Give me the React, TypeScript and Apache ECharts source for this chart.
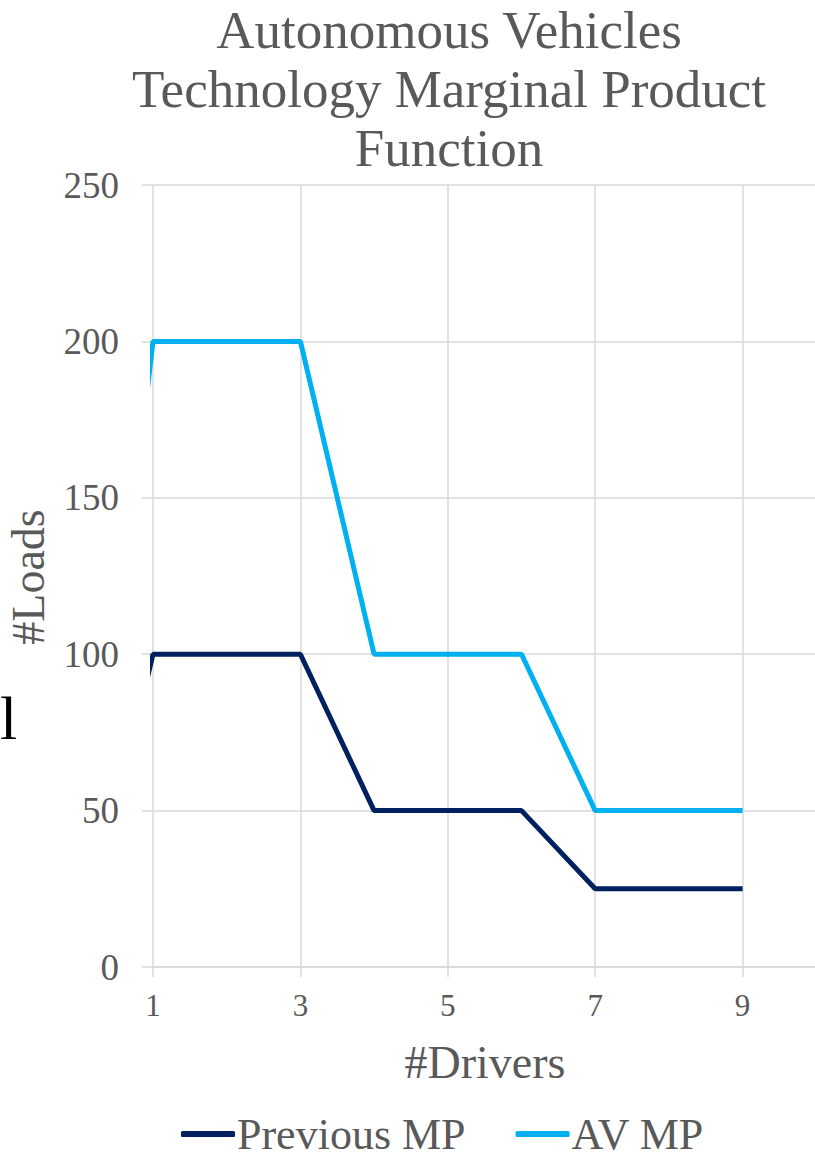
import React, { useEffect, useRef } from "react";
import * as echarts from "echarts";

const drivers = [0, 1, 2, 3, 4, 5, 6, 7, 8, 9];
const previousMP = [0, 100, 100, 100, 50, 50, 50, 25, 25, 25];
const avMP = [0, 200, 200, 200, 100, 100, 100, 50, 50, 50];
const xTickLabels = [1, 3, 5, 7, 9];
const xMax = 11;
const yTicks = [0, 50, 100, 150, 200, 250];

const FONT = '"Liberation Serif", "Times New Roman", serif';
const GRAY = "#595959";
const GRID = "#d9d9d9";

export default function App() {
  const ref = useRef<HTMLDivElement>(null);
  useEffect(() => {
    if (!ref.current) return;
    const chart = echarts.init(ref.current, null, { renderer: "svg" });
    chart.setOption({
      animation: false,
      backgroundColor: "#ffffff",
      grid: {
        left: 153,
        top: 185,
        right: -75,
        bottom: 191,
        containLabel: false,
        outerBoundsMode: "none",
      },
      xAxis: {
        type: "value",
        min: xTickLabels[0],
        max: xMax,
        interval: 2,
        axisLine: { show: true, lineStyle: { color: GRID, width: 1.5 } },
        axisTick: { show: true, length: 10, lineStyle: { color: GRID, width: 1.5 } },
        axisLabel: {
          fontFamily: FONT,
          fontSize: 31,
          color: GRAY,
          margin: 23,
          formatter: (v: number) => (xTickLabels.indexOf(v) >= 0 ? String(v) : ""),
        },
        splitLine: { show: true, lineStyle: { color: GRID, width: 1.5 } },
      },
      yAxis: {
        type: "value",
        min: yTicks[0],
        max: yTicks[yTicks.length - 1],
        interval: 50,
        axisLine: { show: false },
        axisTick: { show: true, length: 11, lineStyle: { color: GRID, width: 1.5 } },
        axisLabel: { fontFamily: FONT, fontSize: 37, color: GRAY, margin: 34 },
        splitLine: { show: true, lineStyle: { color: GRID, width: 1.5 } },
      },
      legend: {
        left: 181,
        top: 1112,
        padding: 0,
        itemWidth: 54,
        itemHeight: 6,
        itemGap: 50,
        icon: "roundRect",
        textStyle: {
          fontFamily: FONT,
          fontSize: 44,
          lineHeight: 40,
          color: GRAY,
          padding: [0, 0, 0, -3],
        },
        data: ["Previous MP", "AV MP"],
      },
      graphic: [
        {
          type: "text",
          x: 449,
          y: 0,
          style: {
            text: "Autonomous Vehicles\nTechnology Marginal Product\nFunction",
            font: `53px ${FONT}`,
            fill: GRAY,
            align: "center",
            verticalAlign: "top",
            lineHeight: 59,
          },
        },
        {
          type: "text",
          x: 485,
          y: 1062,
          style: {
            text: "#Drivers",
            font: `46px ${FONT}`,
            fill: GRAY,
            align: "center",
            verticalAlign: "middle",
          },
        },
        {
          type: "text",
          x: 28,
          y: 577,
          rotation: Math.PI / 2,
          style: {
            text: "#Loads",
            font: `46px ${FONT}`,
            fill: GRAY,
            align: "center",
            verticalAlign: "middle",
          },
        },
        {
          type: "text",
          x: 0,
          y: 718,
          style: {
            text: "l",
            font: `62px ${FONT}`,
            fill: "#000000",
            align: "left",
            verticalAlign: "middle",
          },
        },
      ],
      series: [
        {
          name: "Previous MP",
          type: "line",
          data: drivers.map((d, i) => [d, previousMP[i]]),
          showSymbol: false,
          symbol: "none",
          clip: true,
          lineStyle: { color: "#002060", width: 5 },
          itemStyle: { color: "#002060" },
        },
        {
          name: "AV MP",
          type: "line",
          data: drivers.map((d, i) => [d, avMP[i]]),
          showSymbol: false,
          symbol: "none",
          clip: true,
          lineStyle: { color: "#00B0F0", width: 5 },
          itemStyle: { color: "#00B0F0" },
        },
      ],
    });
    return () => chart.dispose();
  }, []);
  return (
    <div
      ref={ref}
      style={{ position: "absolute", left: 0, top: 0, width: 815, height: 1158 }}
    />
  );
}
